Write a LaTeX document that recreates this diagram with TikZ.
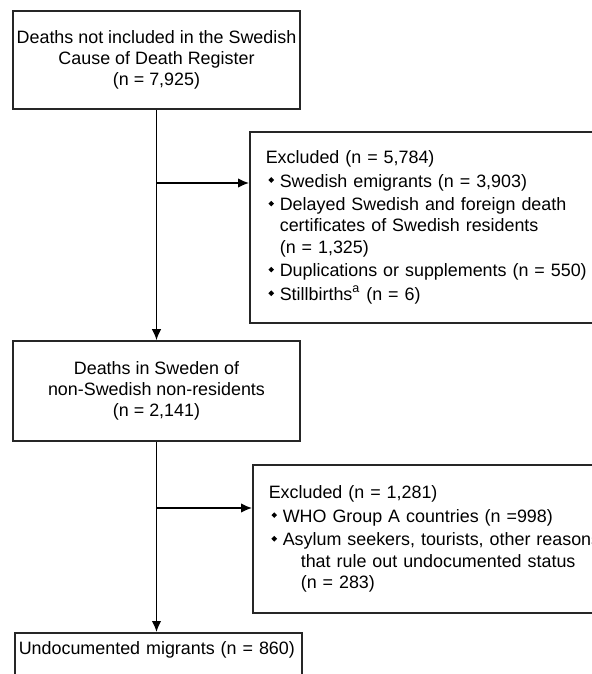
\documentclass[tikz,border=0pt]{standalone}
\usepackage{fontspec}
\setmainfont{Liberation Sans}
\usetikzlibrary{arrows.meta}

% small diamond bullets for the exclusion lists
\newcommand{\dmd}{\raisebox{0.24em}{\rotatebox{45}{\rule{2pt}{2pt}}}}
\newcommand{\itm}{\hspace*{1.3pt}\makebox[5.7pt][l]{\dmd}}
\newcommand{\cont}{\hspace*{7pt}}

\begin{document}
\begin{tikzpicture}[x=0.5pt, y=-0.5pt,
    >={Latex[length=5.5pt,width=4.8pt]},
    stage/.style={rectangle, draw=black!85, line width=0.8pt,
      minimum width=143.5pt, inner xsep=1pt, align=center,
      font=\fontsize{8.95}{10.6}\selectfont},
    excl/.style={rectangle, draw=black!85, line width=0.8pt,
      anchor=north west, text width=200pt, inner xsep=8pt, align=left,
      font=\fontsize{8.95}{10.6}\selectfont},
    flow/.style={->, line width=0.75pt}]

    \useasboundingbox (0,0) rectangle (592,674);
    \clip (0,0) rectangle (592,674);

    \node[stage, minimum height=49pt] (reg) at (156.5,60)
      {Deaths not included in the Swedish\\Cause of Death Register\\(n = 7,925)};

    \node[stage, minimum height=50pt] (nonres) at (156.5,391)
      {Deaths in Sweden of\\non-Swedish non-residents\\(n = 2,141)};

    \node[rectangle, draw=black!85, line width=0.8pt,
      anchor=north west, text width=139.5pt, inner xsep=2pt,
      inner ysep=3pt, text height=8pt, text depth=20pt, align=left,
      font=\fontsize{8.95}{10.6}\selectfont] (undoc) at (14,632)
      {\mbox{Undocumented migrants (n = 860)}};

    \node[excl, minimum height=95.5pt] (ex1) at (249,131)
      {Excluded (n = 5,784)\\[1.2pt]
       \itm Swedish emigrants (n = 3,903)\\[1.2pt]
       \itm Delayed Swedish and foreign death\\
       \cont certificates of Swedish residents\\
       \cont (n = 1,325)\\[1.2pt]
       \itm Duplications or supplements (n = 550)\\[1.2pt]
       \itm Stillbirths\textsuperscript{a} (n = 6)};

    \node[excl, minimum height=74pt] (ex2) at (252,464)
      {Excluded (n = 1,281)\\[1.2pt]
       \itm WHO Group A countries (n =998)\\[1.2pt]
       \itm Asylum seekers, tourists, other reasons\\
       \hspace*{16pt}that rule out undocumented status\\
       \hspace*{16pt}(n = 283)};

    \coordinate (j1) at (156.5,183);
    \coordinate (j2) at (156.5,508);

    \draw[flow] (reg.south) -- (reg.south |- nonres.north);
    \draw[flow] (nonres.south) -- (nonres.south |- undoc.north);
    \draw[flow] (j1) -- (j1 -| ex1.west);
    \draw[flow] (j2) -- (j2 -| ex2.west);
\end{tikzpicture}
\end{document}
